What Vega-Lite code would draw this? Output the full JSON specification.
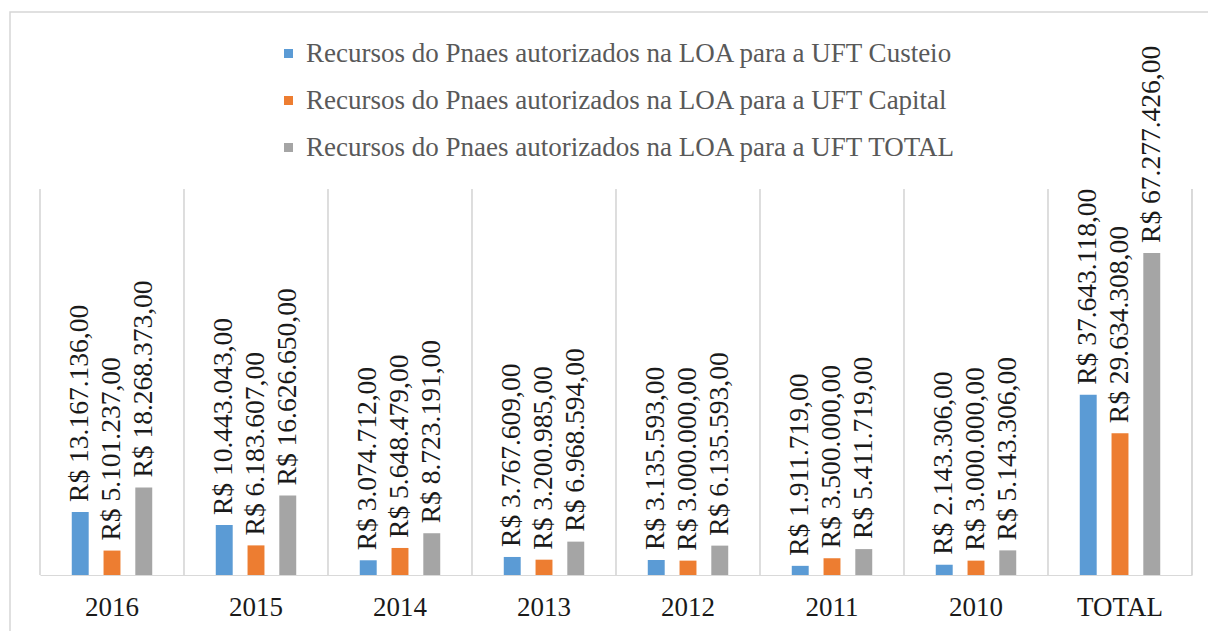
{
  "$schema": "https://vega.github.io/schema/vega-lite/v6.json",
  "width": 1200,
  "height": 625,
  "autosize": {"type": "none"},
  "padding": {"left": 10, "top": 12, "right": 0, "bottom": 0},
  "background": "white",
  "config": {
    "locale": {"number": {"decimal": ",", "thousands": ".", "grouping": [3], "currency": ["R$ ", ""]}},
    "view": {"stroke": "#d6d6d6", "strokeWidth": 1.5},
    "font": "'Liberation Serif', 'Times New Roman', Times, 'DejaVu Serif', serif"
  },
  "data": {
    "values": [
      {"ano": "2016", "serie": "Recursos do Pnaes autorizados na LOA para a UFT Custeio", "valor": 13167136},
      {"ano": "2016", "serie": "Recursos do Pnaes autorizados na LOA para a UFT Capital", "valor": 5101237},
      {"ano": "2016", "serie": "Recursos do Pnaes autorizados na LOA para a UFT TOTAL", "valor": 18268373},
      {"ano": "2015", "serie": "Recursos do Pnaes autorizados na LOA para a UFT Custeio", "valor": 10443043},
      {"ano": "2015", "serie": "Recursos do Pnaes autorizados na LOA para a UFT Capital", "valor": 6183607},
      {"ano": "2015", "serie": "Recursos do Pnaes autorizados na LOA para a UFT TOTAL", "valor": 16626650},
      {"ano": "2014", "serie": "Recursos do Pnaes autorizados na LOA para a UFT Custeio", "valor": 3074712},
      {"ano": "2014", "serie": "Recursos do Pnaes autorizados na LOA para a UFT Capital", "valor": 5648479},
      {"ano": "2014", "serie": "Recursos do Pnaes autorizados na LOA para a UFT TOTAL", "valor": 8723191},
      {"ano": "2013", "serie": "Recursos do Pnaes autorizados na LOA para a UFT Custeio", "valor": 3767609},
      {"ano": "2013", "serie": "Recursos do Pnaes autorizados na LOA para a UFT Capital", "valor": 3200985},
      {"ano": "2013", "serie": "Recursos do Pnaes autorizados na LOA para a UFT TOTAL", "valor": 6968594},
      {"ano": "2012", "serie": "Recursos do Pnaes autorizados na LOA para a UFT Custeio", "valor": 3135593},
      {"ano": "2012", "serie": "Recursos do Pnaes autorizados na LOA para a UFT Capital", "valor": 3000000},
      {"ano": "2012", "serie": "Recursos do Pnaes autorizados na LOA para a UFT TOTAL", "valor": 6135593},
      {"ano": "2011", "serie": "Recursos do Pnaes autorizados na LOA para a UFT Custeio", "valor": 1911719},
      {"ano": "2011", "serie": "Recursos do Pnaes autorizados na LOA para a UFT Capital", "valor": 3500000},
      {"ano": "2011", "serie": "Recursos do Pnaes autorizados na LOA para a UFT TOTAL", "valor": 5411719},
      {"ano": "2010", "serie": "Recursos do Pnaes autorizados na LOA para a UFT Custeio", "valor": 2143306},
      {"ano": "2010", "serie": "Recursos do Pnaes autorizados na LOA para a UFT Capital", "valor": 3000000},
      {"ano": "2010", "serie": "Recursos do Pnaes autorizados na LOA para a UFT TOTAL", "valor": 5143306},
      {"ano": "TOTAL", "serie": "Recursos do Pnaes autorizados na LOA para a UFT Custeio", "valor": 37643118},
      {"ano": "TOTAL", "serie": "Recursos do Pnaes autorizados na LOA para a UFT Capital", "valor": 29634308},
      {"ano": "TOTAL", "serie": "Recursos do Pnaes autorizados na LOA para a UFT TOTAL", "valor": 67277426}
    ]
  },
  "encoding": {
    "x": {
      "field": "ano",
      "type": "nominal",
      "sort": null,
      "scale": {"paddingInner": 0, "paddingOuter": 0, "range": [30, 1182]},
      "axis": {
        "title": null,
        "labelAngle": 0,
        "labelFontSize": 27,
        "labelColor": "#1a1a1a",
        "labelPadding": 19,
        "ticks": false,
        "domainColor": "#d9d9d9",
        "grid": false,
        "offset": -62
      }
    },
    "y": {
      "field": "valor",
      "type": "quantitative",
      "scale": {"domain": [0, 80000000], "range": [563, 180], "nice": false, "zero": true},
      "axis": null
    }
  },
  "layer": [
    {
      "mark": {"type": "rule", "color": "#d9d9d9", "strokeWidth": 1},
      "encoding": {
        "x": {"field": "ano", "type": "nominal", "sort": null, "bandPosition": 0},
        "y": {"datum": 0},
        "y2": {"datum": 80600000}
      }
    },
    {
      "mark": {"type": "rule", "color": "#d9d9d9", "strokeWidth": 1},
      "encoding": {
        "x": {"datum": "TOTAL", "type": "nominal", "bandPosition": 1},
        "y": {"datum": 0},
        "y2": {"datum": 80600000}
      }
    },
    {
      "mark": {"type": "bar"},
      "encoding": {
        "xOffset": {
          "field": "serie",
          "type": "nominal",
          "sort": [
            "Recursos do Pnaes autorizados na LOA para a UFT Custeio",
            "Recursos do Pnaes autorizados na LOA para a UFT Capital",
            "Recursos do Pnaes autorizados na LOA para a UFT TOTAL"
          ],
          "scale": {"paddingInner": 0.467, "paddingOuter": 1.133}
        },
        "color": {
          "field": "serie",
          "type": "nominal",
          "sort": [
            "Recursos do Pnaes autorizados na LOA para a UFT Custeio",
            "Recursos do Pnaes autorizados na LOA para a UFT Capital",
            "Recursos do Pnaes autorizados na LOA para a UFT TOTAL"
          ],
          "scale": {"range": ["#5B9BD5", "#ED7D31", "#A5A5A5"]},
          "legend": {
            "title": null,
            "orient": "none",
            "legendX": 265,
            "legendY": 28,
            "direction": "vertical",
            "symbolType": "square",
            "symbolSize": 81,
            "symbolStrokeWidth": 0,
            "labelFontSize": 27,
            "labelColor": "#595959",
            "labelLimit": 0,
            "labelOffset": 4,
            "rowPadding": 19
          }
        }
      }
    },
    {
      "mark": {"type": "text", "angle": -90, "align": "left", "baseline": "middle", "dx": 10, "fontSize": 27.5, "color": "#1a1a1a"},
      "encoding": {
        "xOffset": {
          "field": "serie",
          "type": "nominal",
          "sort": [
            "Recursos do Pnaes autorizados na LOA para a UFT Custeio",
            "Recursos do Pnaes autorizados na LOA para a UFT Capital",
            "Recursos do Pnaes autorizados na LOA para a UFT TOTAL"
          ]
        },
        "text": {"field": "valor", "type": "quantitative", "format": "$,.2f"}
      }
    }
  ]
}
